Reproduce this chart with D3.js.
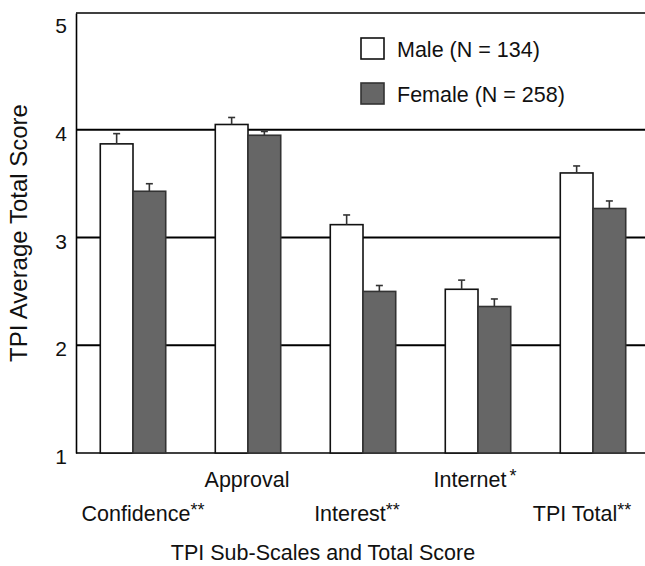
<!DOCTYPE html>
<html><head><meta charset="utf-8">
<script src="https://cdn.jsdelivr.net/npm/d3@7"></script>
<style>
html,body{margin:0;padding:0;background:#fff;}
svg{display:block;font-family:"Liberation Sans",Arial,Helvetica,sans-serif;}
</style></head>
<body><svg id="chart" width="645" height="566"></svg>
<script>
const categories = ["Confidence", "Approval", "Interest", "Internet", "TPI Total"];
const stars = ["**", "", "**", "*", "**"];
const labelRow = [1, 0, 1, 0, 1];
const series = ["Male (N = 134)", "Female (N = 258)"];
const maleMean = [3.87, 4.05, 3.12, 2.52, 3.60];
const maleSE = [0.095, 0.065, 0.09, 0.085, 0.065];
const femaleMean = [3.43, 3.95, 2.50, 2.36, 3.27];
const femaleSE = [0.07, 0.035, 0.055, 0.07, 0.07];
const yTicks = [1, 2, 3, 4, 5];
const gridValues = [2, 3, 4];

// layout-only: horizontal nudge of each category label (px)
const labelNudge = [10, -1, -6, -3, -11];

const svg = d3.select("#chart");
const pLeft = 76, pTop = 13, pBottom = 453, pRight = 645;

const y = d3.scaleLinear().domain([1, 5.085]).range([pBottom, pTop]);
const x0 = d3.scaleBand().domain(categories).range([75.5, 650.5]).paddingInner(0.431).paddingOuter(0.2155);
const x1 = d3.scaleBand().domain(["m", "f"]).range([0, x0.bandwidth()]);

const data = categories.map((c, i) => ({
  cat: c,
  vals: [
    {key: "m", mean: maleMean[i], se: maleSE[i]},
    {key: "f", mean: femaleMean[i], se: femaleSE[i]}
  ]
}));

// gridlines
svg.append("g").selectAll("line").data(gridValues).join("line")
  .attr("x1", pLeft).attr("x2", pRight)
  .attr("y1", d => y(d)).attr("y2", d => y(d))
  .attr("stroke", "#000").attr("stroke-width", 2);

// frame
svg.append("line").attr("x1", pLeft).attr("x2", pRight).attr("y1", pTop).attr("y2", pTop).attr("stroke", "#000").attr("stroke-width", 1.6);
svg.append("line").attr("x1", pLeft).attr("x2", pRight).attr("y1", pBottom).attr("y2", pBottom).attr("stroke", "#000").attr("stroke-width", 1.6);

// y axis
const yAxis = d3.axisLeft(y).tickValues(yTicks).tickSize(0).tickPadding(9).tickFormat(d3.format("d"));
const ga = svg.append("g").attr("transform", `translate(${pLeft},0)`).call(yAxis);
ga.select(".domain").attr("stroke", "#000").attr("stroke-width", 1.6);
ga.selectAll("text").attr("font-size", 21).attr("fill", "#111").attr("font-family", "Liberation Sans, Arial, sans-serif").attr("dy", "0.5em");

// bars
const groups = svg.append("g").selectAll("g").data(data).join("g")
  .attr("transform", d => `translate(${x0(d.cat)},0)`);
groups.selectAll("rect").data(d => d.vals).join("rect")
  .attr("x", d => x1(d.key))
  .attr("width", x1.bandwidth())
  .attr("y", d => y(d.mean))
  .attr("height", d => y(1) - y(d.mean))
  .attr("fill", d => d.key === "m" ? "#fff" : "#666")
  .attr("stroke", d => d.key === "m" ? "#111" : "#333")
  .attr("stroke-width", 1.6);
// error bars
groups.selectAll("line.err").data(d => d.vals).join("line").attr("class", "err")
  .attr("x1", d => x1(d.key) + x1.bandwidth() / 2).attr("x2", d => x1(d.key) + x1.bandwidth() / 2)
  .attr("y1", d => y(d.mean)).attr("y2", d => y(d.mean + d.se))
  .attr("stroke", "#333").attr("stroke-width", 1.6);
groups.selectAll("line.cap").data(d => d.vals).join("line").attr("class", "cap")
  .attr("x1", d => x1(d.key) + x1.bandwidth() / 2 - 3.5).attr("x2", d => x1(d.key) + x1.bandwidth() / 2 + 3.5)
  .attr("y1", d => y(d.mean + d.se)).attr("y2", d => y(d.mean + d.se))
  .attr("stroke", "#333").attr("stroke-width", 1.6);

// category labels
const rowY = [487, 521];
const lab = svg.append("g").selectAll("text").data(categories).join("text")
  .attr("x", (d, i) => x0(d) + x0.bandwidth() / 2 + labelNudge[i])
  .attr("y", (d, i) => rowY[labelRow[i]])
  .attr("text-anchor", "middle")
  .attr("font-size", 21.5).attr("fill", "#111");
lab.append("tspan").text(d => d);
lab.append("tspan").text((d, i) => stars[i]).attr("font-size", 18).attr("dy", -5)
  .attr("dx", (d, i) => stars[i] === "*" ? 3 : 0);

// axis titles
svg.append("text").attr("x", 323).attr("y", 560).attr("text-anchor", "middle")
  .attr("font-size", 21.5).attr("fill", "#111").text("TPI Sub-Scales and Total Score");
svg.append("text").attr("transform", `translate(27,${(pTop + pBottom) / 2}) rotate(-90)`)
  .attr("text-anchor", "middle").attr("font-size", 24).attr("fill", "#111").text("TPI Average Total Score");

// legend
const leg = svg.append("g").selectAll("g").data(series).join("g")
  .attr("transform", (d, i) => `translate(361,${38 + i * 45})`);
leg.append("rect").attr("width", 23).attr("height", 21)
  .attr("fill", (d, i) => i === 0 ? "#fff" : "#666")
  .attr("stroke", (d, i) => i === 0 ? "#111" : "#333").attr("stroke-width", 1.6);
leg.append("text").attr("x", 36).attr("y", 18.5).attr("font-size", 21.5).attr("fill", "#111").text(d => d);
</script></body></html>
